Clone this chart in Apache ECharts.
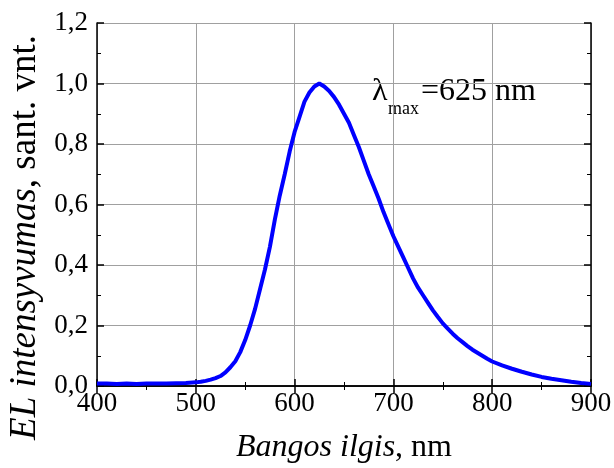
<!DOCTYPE html>
<html>
<head>
<meta charset="utf-8">
<script src="https://cdn.jsdelivr.net/npm/echarts@6/dist/echarts.min.js"></script>
<style>
  html, body { margin: 0; padding: 0; background: #fff; }
  #chart { width: 614px; height: 468px; }
</style>
</head>
<body>
<div id="chart"></div>
<script>
// bangos ilgis (nm) ir EL intensyvumas, nuskaityta iš paveikslo
const wavelengths = [
  400, 410, 420, 430, 440, 450, 460, 470, 480, 490,
  500, 505, 510, 515, 520, 525, 530, 535, 540, 545,
  550, 555, 560, 565, 570, 575, 580, 585, 590, 595,
  600, 605, 610, 615, 620, 625, 630, 635, 640, 645,
  650, 655, 660, 665, 670, 675, 680, 685, 690, 695,
  700, 705, 710, 715, 720, 725, 730, 735, 740, 745,
  750, 755, 760, 765, 770, 775, 780, 785, 790, 795,
  800, 810, 820, 830, 840, 850, 860, 870, 880, 890, 900
]
const intensity = [
  0.008, 0.008, 0.007, 0.008, 0.007, 0.008, 0.008, 0.008, 0.009, 0.010,
  0.012, 0.014, 0.017, 0.021, 0.026, 0.033, 0.045, 0.062, 0.082, 0.112,
  0.152, 0.200, 0.255, 0.320, 0.385, 0.460, 0.550, 0.630, 0.700, 0.775,
  0.840, 0.890, 0.940, 0.970, 0.990, 1.000, 0.990, 0.975, 0.955, 0.930,
  0.900, 0.870, 0.830, 0.790, 0.745, 0.700, 0.660, 0.620, 0.575, 0.535,
  0.495, 0.460, 0.425, 0.390, 0.355, 0.325, 0.300, 0.275, 0.250, 0.228,
  0.207, 0.190, 0.173, 0.158, 0.145, 0.132, 0.120, 0.110, 0.100, 0.090,
  0.081, 0.068, 0.057, 0.047, 0.038, 0.030, 0.024, 0.019, 0.014, 0.010, 0.007
]

const FONT = '"Liberation Serif", "Times New Roman", serif'

const frameAxis = (extra) => ({
  axisLine: { show: true, lineStyle: { color: '#000', width: 1.5 } },
  axisTick: { show: true, inside: true, length: 7, lineStyle: { color: '#000', width: 1.5 } },
  minorTick: { show: true, splitNumber: 2, length: 4, lineStyle: { color: '#000', width: 1 } },
  ...extra
})

const chart = echarts.init(document.getElementById('chart'))

chart.setOption({
  animation: false,
  grid: { left: 97, top: 23, right: 23, bottom: 82, outerBoundsMode: 'none' },
  xAxis: [
    frameAxis({
      type: 'value', min: 400, max: 900, interval: 100, position: 'bottom',
      splitLine: { show: true, lineStyle: { color: '#a0a0a0', width: 1 } },
      axisLabel: { color: '#000', fontFamily: FONT, fontSize: 27, margin: 4 },
      name: '{i|Bangos ilgis}, nm',
      nameLocation: 'middle',
      nameGap: 46,
      nameTextStyle: {
        color: '#000', fontFamily: FONT, fontSize: 32,
        rich: { i: { fontStyle: 'italic', fontFamily: FONT, fontSize: 32, color: '#000' } }
      }
    }),
    frameAxis({
      type: 'value', min: 400, max: 900, interval: 100, position: 'top',
      splitLine: { show: false }, axisLabel: { show: false }
    })
  ],
  yAxis: [
    frameAxis({
      type: 'value', min: 0, max: 1.2, interval: 0.2, position: 'left',
      splitLine: { show: true, lineStyle: { color: '#a0a0a0', width: 1 } },
      axisLabel: {
        color: '#000', fontFamily: FONT, fontSize: 27, margin: 9,
        formatter: v => v.toFixed(1).replace('.', ',')
      },
      name: '{i|EL intensyvumas}, sant. vnt.',
      nameLocation: 'middle',
      nameGap: 50,
      nameTextStyle: {
        color: '#000', fontFamily: FONT, fontSize: 37,
        padding: [0, 66, 0, 0],
        rich: { i: { fontStyle: 'italic', fontFamily: FONT, fontSize: 37, color: '#000' } }
      }
    }),
    frameAxis({
      type: 'value', min: 0, max: 1.2, interval: 0.2, position: 'right',
      splitLine: { show: false }, axisLabel: { show: false }
    })
  ],
  series: [{
    type: 'line',
    data: wavelengths.map((w, i) => [w, intensity[i]]),
    showSymbol: false,
    lineStyle: { color: '#0000ff', width: 4 },
    z: 5
  }],
  graphic: [
    { type: 'text', left: 372, top: 76, style: { text: 'λ', font: '32px ' + FONT, fill: '#000' } },
    { type: 'text', left: 388, top: 100, style: { text: 'max', font: '18px ' + FONT, fill: '#000' } },
    { type: 'text', left: 421, top: 76, style: { text: '=625 nm', font: '32px ' + FONT, fill: '#000' } }
  ]
})
</script>
</body>
</html>
